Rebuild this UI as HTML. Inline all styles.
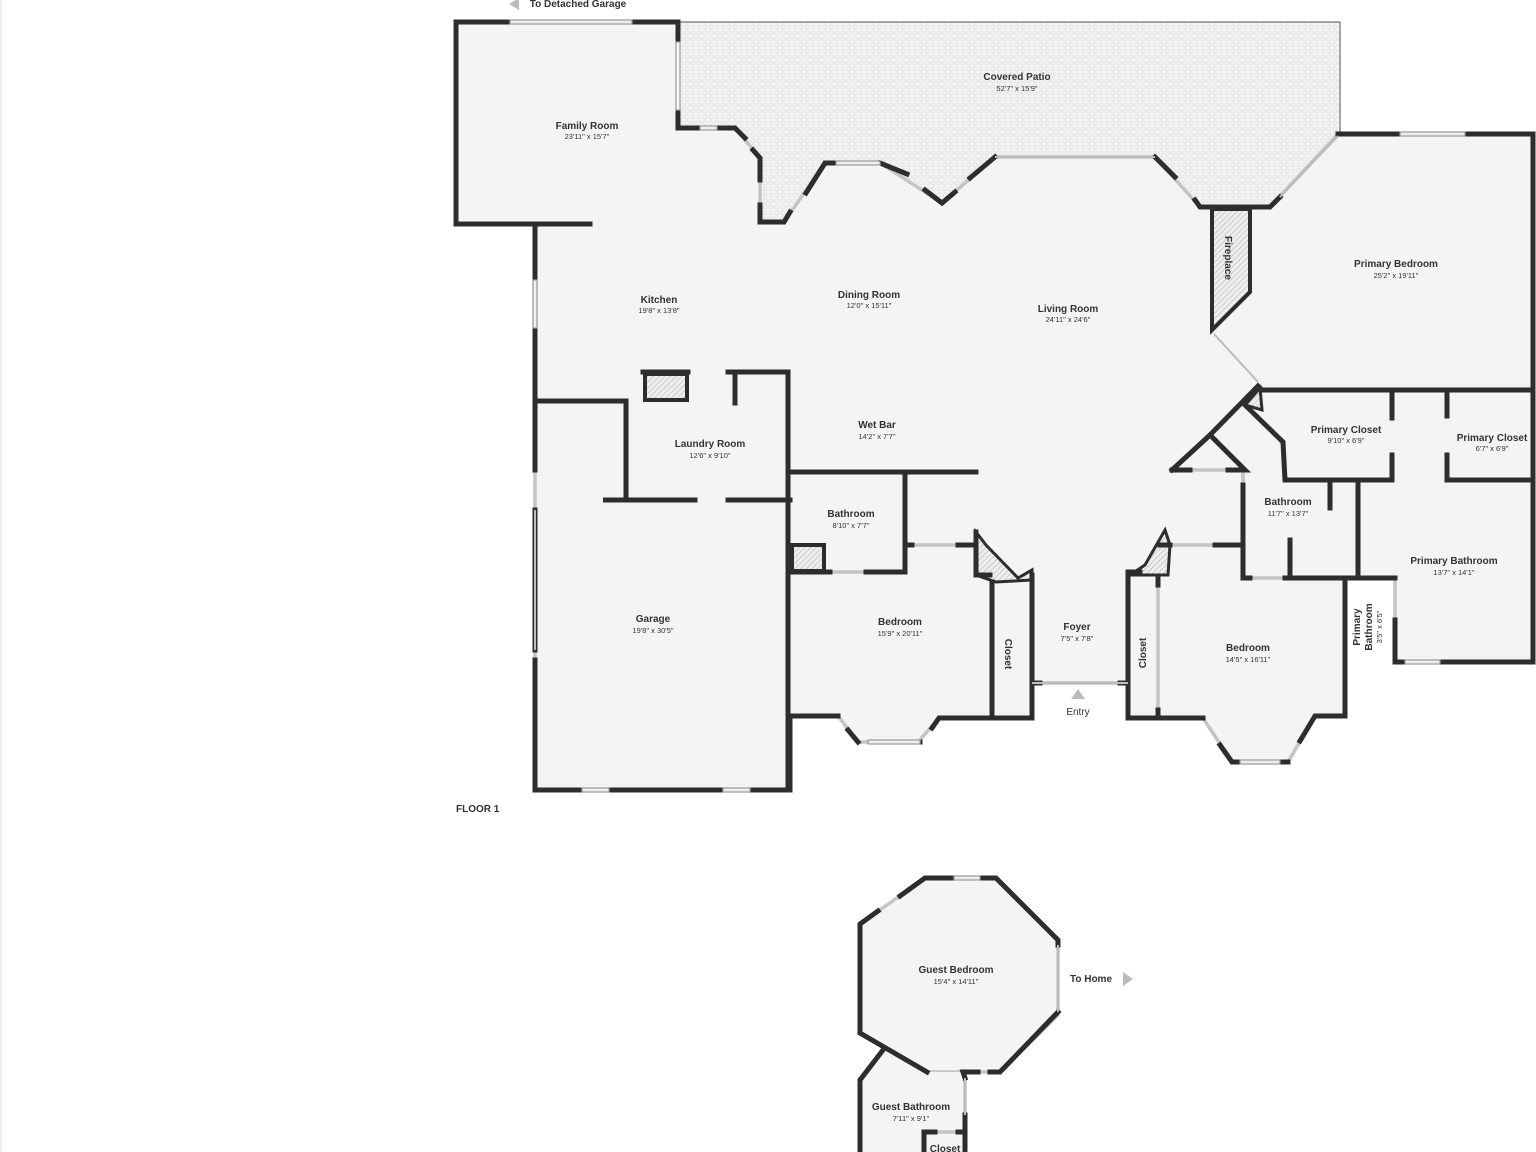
<!DOCTYPE html>
<html><head><meta charset="utf-8"><style>
html,body{margin:0;padding:0;background:#fff;}
svg{display:block;}
text{font-family:"Liberation Sans",sans-serif;fill:#333;text-anchor:middle;}
.n{font-size:10px;font-weight:bold;}
.d{font-size:7.5px;}
</style></head><body>
<svg width="1536" height="1152" viewBox="0 0 1536 1152" xmlns="http://www.w3.org/2000/svg">
<defs>
<pattern id="dots" width="6" height="6" patternUnits="userSpaceOnUse">
<rect width="6" height="6" fill="#f3f3f3"/><circle cx="3" cy="3" r="2" fill="none" stroke="#dcdcdc" stroke-width="0.7"/>
</pattern>
<pattern id="hatch" width="4" height="4" patternUnits="userSpaceOnUse" patternTransform="rotate(45)">
<rect width="4" height="4" fill="#eee"/><line x1="0" y1="0" x2="0" y2="4" stroke="#aaa" stroke-width="1"/>
</pattern>
</defs>
<line x1="1" y1="0" x2="1" y2="1152" stroke="#ddd"/>
<polygon points="678,22 1340,22 1340,134 1270,207 1200,207 1155,157 995,157 942,203 880,163 825,163 784,222 760,222 760,158 735,128 678,128" fill="url(#dots)" stroke="#555" stroke-width="1"/>
<polygon points="456,22 678,22 678,128 735,128 760,158 760,222 784,222 825,163 880,163 942,203 995,157 1155,157 1200,207 1270,207 1338,134 1533,134 1533,662 1395,662 1395,578 1345,578 1345,716 1315,716 1288,762 1232,762 1203,718 1128,718 1128,683 1032,683 1032,718 992,718 939,718 918,742 858,742 838,716 790,716 790,790 535,790 535,224 456,224" fill="#f4f4f4" stroke="#c4c4c4" stroke-width="3.5"/>
<polygon points="860,924 925,878 996,878 1058,940 1058,1015 1000,1072 927,1072 860,1033" fill="#f4f4f4" stroke="#c4c4c4" stroke-width="3.5"/>
<polygon points="883,1050 927,1072 965,1072 965,1152 860,1152 860,1080" fill="#f4f4f4"/>
<g stroke="#c4c4c4" stroke-width="3.5" fill="none">
<line x1="965" y1="1072" x2="965" y2="1152"/>
<line x1="924" y1="1132" x2="965" y2="1132"/>
<line x1="1160" y1="545" x2="1243" y2="545"/>
<line x1="905" y1="545" x2="975" y2="545"/>
<line x1="790" y1="572" x2="905" y2="572"/>
<line x1="1243" y1="578" x2="1290" y2="578"/>
<line x1="1392" y1="390" x2="1447" y2="390"/>
<line x1="1128" y1="578" x2="1128" y2="718"/>
<line x1="1158" y1="585" x2="1158" y2="710"/>
<line x1="992" y1="582" x2="992" y2="718"/>
<line x1="1172" y1="470" x2="1245" y2="470"/>
<line x1="1243" y1="470" x2="1243" y2="545"/>
</g>
<rect x="645" y="374" width="42" height="26" fill="url(#hatch)" stroke="#2d2d2d" stroke-width="4"/>
<rect x="792" y="545" width="32" height="26" fill="url(#hatch)" stroke="#2d2d2d" stroke-width="4"/>
<polygon points="1212,209 1250,209 1250,292 1212,330" fill="url(#hatch)" stroke="#2d2d2d" stroke-width="4"/>
<polygon points="976,532 986,545 1018,578 1032,570 1032,580 996,582 976,575" fill="url(#hatch)" stroke="#2d2d2d" stroke-width="3"/>
<polygon points="1165,530 1170,545 1168,575 1130,575 1145,565" fill="url(#hatch)" stroke="#2d2d2d" stroke-width="3"/>
<polygon points="1245,405 1260,388 1262,410" fill="url(#hatch)" stroke="#2d2d2d" stroke-width="3"/>
<g stroke="#2d2d2d" stroke-width="5" fill="none" stroke-linecap="square">
<polyline points="508,22 456,22 456,224 590,224"/>
<polyline points="633,22 678,22 678,42"/>
<polyline points="678,110 678,128 700,128"/>
<polyline points="717,128 735,128 745,138"/>
<polyline points="753,150 760,158 760,180"/>
<polyline points="760,205 760,222 784,222 790,212"/>
<polyline points="806,193 825,163 835,163"/>
<polyline points="880,163 907,174"/>
<polyline points="925,190 942,203 955,192"/>
<polyline points="970,178 995,157"/>
<polyline points="1155,157 1175,177"/>
<polyline points="1195,200 1200,207 1270,207 1280,197"/>
<polyline points="1338,134 1400,134"/>
<polyline points="1465,134 1533,134 1533,662 1440,662"/>
<polyline points="1405,662 1395,662 1395,620"/>
<polyline points="1395,578 1345,578 1345,716 1315,716 1300,741"/>
<polyline points="1288,762 1280,762"/>
<polyline points="1240,762 1232,762 1220,745"/>
<polyline points="1203,718 1128,718 1128,572 1140,572"/>
<polyline points="1128,683 1120,683"/>
<polyline points="1040,683 1032,683"/>
<polyline points="1032,575 1032,718 992,718 992,582"/>
<polyline points="992,718 939,718 932,728"/>
<polyline points="920,742 918,742 905,742"/>
<polyline points="858,742 848,730"/>
<polyline points="838,716 790,716 790,790 750,790"/>
<polyline points="722,790 610,790"/>
<polyline points="582,790 535,790 535,660"/>
<polyline points="535,650 535,510"/>
<polyline points="535,470 535,328"/>
<polyline points="535,280 535,224"/>
<polyline points="535,401 626,401 626,500 603,500 695,500"/>
<polyline points="728,500 790,500"/>
<polyline points="688,372 643,372"/>
<polyline points="728,372 788,372 788,790"/>
<line x1="735" y1="372" x2="735" y2="403"/>
<line x1="790" y1="472" x2="976" y2="472"/>
<polyline points="905,472 905,545 912,545"/>
<line x1="958" y1="545" x2="975" y2="545"/>
<polyline points="790,572 830,572"/>
<polyline points="866,572 905,572 905,545"/>
<polyline points="976,532 976,575 990,575"/>
<polyline points="1172,470 1210,435 1245,470 1228,470"/>
<line x1="1172" y1="470" x2="1190" y2="470"/>
<polyline points="1210,435 1258,386 1262,390 1533,390"/>
<polyline points="1245,405 1283,442 1285,480 1392,480 1392,455"/>
<line x1="1392" y1="390" x2="1392" y2="418"/>
<line x1="1447" y1="390" x2="1447" y2="416"/>
<polyline points="1447,455 1447,480 1533,480"/>
<polyline points="1243,485 1243,578 1250,578"/>
<polyline points="1285,578 1345,578"/>
<line x1="1160" y1="545" x2="1170" y2="545"/>
<line x1="1215" y1="545" x2="1243" y2="545"/>
<line x1="1330" y1="485" x2="1330" y2="508"/>
<line x1="1358" y1="480" x2="1358" y2="578"/>
<line x1="1290" y1="540" x2="1290" y2="578"/>
<line x1="1158" y1="578" x2="1158" y2="585"/>
<line x1="1158" y1="710" x2="1158" y2="718"/>
<polyline points="878,911 860,924 860,1033 927,1072"/>
<polyline points="900,896 925,878 953,878"/>
<polyline points="980,878 996,878 1058,940 1058,945"/>
<polyline points="1058,1012 1000,1072 990,1072"/>
<polyline points="978,1072 963,1072 965,1078"/>
<polyline points="883,1050 860,1080 860,1152"/>
<polyline points="965,1115 965,1152"/>
<polyline points="924,1152 924,1132 935,1132"/>
<line x1="958" y1="1132" x2="965" y2="1132"/>
</g>
<g stroke="#999" stroke-width="1.2" fill="#eee">
<rect x="510" y="20" width="122" height="4"/>
<rect x="676" y="42" width="4" height="68" fill="#fafafa"/>
<rect x="1400" y="132" width="65" height="4"/>
<rect x="582" y="788" width="27" height="4"/>
<rect x="723" y="788" width="27" height="4"/>
<rect x="836" y="161" width="44" height="4"/>
<rect x="868" y="740" width="52" height="4"/>
<rect x="1240" y="760" width="40" height="4"/>
<rect x="1405" y="660" width="35" height="4"/>
<rect x="954" y="876" width="26" height="4"/>
<rect x="533" y="280" width="4" height="48"/>
<rect x="700" y="126" width="17" height="4"/>
</g>
<g stroke="#bbb" stroke-width="2" fill="none">
<line x1="995" y1="157" x2="1155" y2="157"/>
<line x1="1214" y1="334" x2="1258" y2="382"/>
<line x1="1280" y1="197" x2="1338" y2="136"/>
<line x1="1032" y1="683" x2="1128" y2="683"/>
<line x1="1058" y1="945" x2="1058" y2="1012"/>
<line x1="965" y1="1078" x2="965" y2="1115"/>
<line x1="535" y1="510" x2="535" y2="650"/>
</g>
<polygon points="519,-2 519,10 509,4" fill="#bbb"/>
<text x="578" y="7" class="n">To Detached Garage</text>
<text x="1017" y="80" class="n">Covered Patio</text><text x="1017" y="91" class="d">52'7" x 15'9"</text>
<text x="587" y="129" class="n">Family Room</text><text x="587" y="139" class="d">23'11" x 15'7"</text>
<text x="659" y="303" class="n">Kitchen</text><text x="659" y="313" class="d">19'8" x 13'8"</text>
<text x="869" y="298" class="n">Dining Room</text><text x="869" y="308" class="d">12'0" x 15'11"</text>
<text x="1068" y="312" class="n">Living Room</text><text x="1068" y="322" class="d">24'11" x 24'6"</text>
<text x="1396" y="267" class="n">Primary Bedroom</text><text x="1396" y="278" class="d">25'2" x 19'11"</text>
<text x="1225" y="258" class="n" transform="rotate(90 1225 258)">Fireplace</text>
<text x="710" y="447" class="n">Laundry Room</text><text x="710" y="458" class="d">12'6" x 9'10"</text>
<text x="877" y="428" class="n">Wet Bar</text><text x="877" y="439" class="d">14'2" x 7'7"</text>
<text x="1346" y="433" class="n">Primary Closet</text><text x="1346" y="443" class="d">9'10" x 6'9"</text>
<text x="1492" y="441" class="n">Primary Closet</text><text x="1492" y="451" class="d">6'7" x 6'9"</text>
<text x="851" y="517" class="n">Bathroom</text><text x="851" y="528" class="d">8'10" x 7'7"</text>
<text x="1288" y="505" class="n">Bathroom</text><text x="1288" y="516" class="d">11'7" x 13'7"</text>
<text x="1454" y="564" class="n">Primary Bathroom</text><text x="1454" y="575" class="d">13'7" x 14'1"</text>
<text x="653" y="622" class="n">Garage</text><text x="653" y="633" class="d">19'8" x 30'5"</text>
<text x="900" y="625" class="n">Bedroom</text><text x="900" y="636" class="d">15'9" x 20'11"</text>
<text x="1005" y="654" class="n" transform="rotate(90 1005 654)">Closet</text>
<text x="1077" y="630" class="n">Foyer</text><text x="1077" y="641" class="d">7'5" x 7'8"</text>
<text x="1146" y="653" class="n" transform="rotate(-90 1146 653)">Closet</text>
<text x="1248" y="651" class="n">Bedroom</text><text x="1248" y="662" class="d">14'5" x 16'11"</text>
<text x="1360" y="627" class="n" transform="rotate(-90 1360 627)">Primary</text>
<text x="1372" y="627" class="n" transform="rotate(-90 1372 627)">Bathroom</text>
<text x="1382" y="627" class="d" transform="rotate(-90 1382 627)">3'5" x 6'5"</text>
<polygon points="1078,689 1085,699 1071,699" fill="#bbb"/>
<text x="1078" y="715" style="font-size:10px">Entry</text>
<text x="456" y="812" class="n" style="text-anchor:start">FLOOR 1</text>
<text x="956" y="973" class="n">Guest Bedroom</text><text x="956" y="984" class="d">15'4" x 14'11"</text>
<text x="1091" y="982" class="n">To Home</text>
<polygon points="1123,972 1133,979 1123,986" fill="#bbb"/>
<text x="911" y="1110" class="n">Guest Bathroom</text><text x="911" y="1121" class="d">7'11" x 9'1"</text>
<text x="945" y="1152" class="n">Closet</text>
</svg>
</body></html>
